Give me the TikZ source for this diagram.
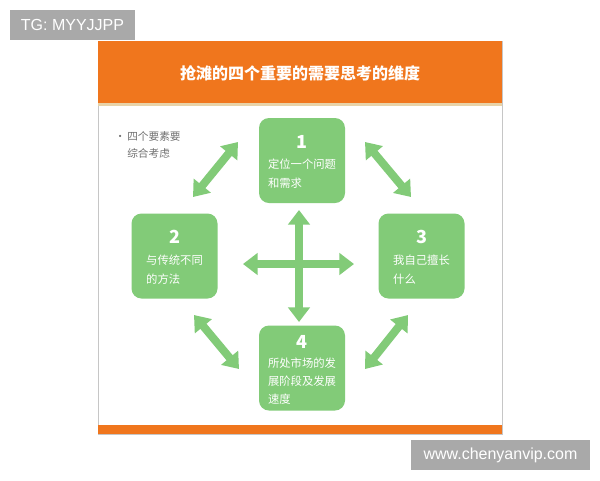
\documentclass[tikz,border=0pt]{standalone}
\usepackage{fontspec}
\setmainfont{Liberation Sans}
\newfontfamily\cjk{Noto Sans CJK SC}
\usetikzlibrary{arrows.meta,positioning}
\definecolor{hdorange}{HTML}{F0761D}
\definecolor{hdbeige}{HTML}{E8D3A8}
\definecolor{boxgreen}{HTML}{82CB78}
\definecolor{wmgray}{HTML}{A9A9A9}
\definecolor{notegray}{HTML}{707070}
\tikzset{
  stepbox/.style={draw=none, fill=boxgreen, rounded corners=7.5pt,
    minimum width=64.5pt, minimum height=63.75pt, inner sep=0pt},
  numlbl/.style={text=white, font=\cjk\bfseries\fontsize{13.5}{13.5}\selectfont, inner sep=0pt},
  boxtxt/.style={text=white, align=left, inner sep=0pt,
    font=\cjk\fontsize{8.5}{14}\selectfont},
  dblarrow/.style={draw=boxgreen, line width=6pt,
    {Triangle[width=16pt,length=11pt]}-{Triangle[width=16pt,length=11pt]}},
  wmark/.style={fill=wmgray, text=white, inner sep=0pt,
    font=\fontsize{12}{12}\selectfont}
}

\begin{document}
\begin{tikzpicture}[x=0.75pt, y=-0.75pt]
\useasboundingbox[fill=white] (0,0) rectangle (600,480);

% frame
\draw[gray!45, line width=0.6pt] (98,41) rectangle (502,434);
\fill[hdorange] (98,41) rectangle (502,103);
\fill[hdbeige] (98,103) rectangle (502,106);
\fill[hdorange] (98,425) rectangle (502,434);
\node[text=white, font=\cjk\bfseries\fontsize{12}{12}\selectfont] (title) at (300,73) {抢滩的四个重要的需要思考的维度};

% note
\node[anchor=north west, align=left, text=notegray, inner sep=0pt,
  font=\cjk\fontsize{8}{12.75}\selectfont] (note) at (127,131)
  {\llap{·\,}四个要素要\\综合考虑};

% boxes
\node[stepbox] (b1) at (302,160.5) {};
\node[stepbox] (b2) at (174.5,256) {};
\node[stepbox] (b3) at (421.5,256) {};
\node[stepbox] (b4) at (302,368) {};

\node[numlbl] (n1) at ([yshift=-18pt]b1.north) {1};
\node[numlbl] (n2) at ([yshift=-17.5pt]b2.north) {2};
\node[numlbl] (n3) at ([yshift=-17.5pt]b3.north) {3};
\node[numlbl] (n4) at ([yshift=-12.5pt]b4.north) {4};

\node[boxtxt, anchor=north] (t1) at ([yshift=-13pt]n1.center) {定位一个问题\\和需求};
\node[boxtxt, anchor=north] (t2) at ([yshift=-13.5pt]n2.center) {与传统不同\\的方法};
\node[boxtxt, anchor=north] (t3) at ([yshift=-13.5pt]n3.center) {我自己擅长\\什么};
\node[boxtxt, anchor=north, font=\cjk\fontsize{8.5}{13.5}\selectfont] (t4) at ([yshift=-11.5pt]n4.center) {所处市场的发\\展阶段及发展\\速度};

% arrows
\coordinate (hubN) at (299,210);
\coordinate (hubS) at (299,322);
\coordinate (hubW) at (243,264);
\coordinate (hubE) at (354,264);
\draw[dblarrow] (hubN) -- (hubS);
\draw[dblarrow] (hubW) -- (hubE);

\coordinate (ul1) at (193,197);
\coordinate (ul2) at (238,142);
\coordinate (ur1) at (365,142);
\coordinate (ur2) at (411,197);
\coordinate (ll1) at (194,315);
\coordinate (ll2) at (239,369);
\coordinate (lr1) at (408,315);
\coordinate (lr2) at (365,369);
\draw[dblarrow] (ul1) -- (ul2);
\draw[dblarrow] (ur1) -- (ur2);
\draw[dblarrow] (ll1) -- (ll2);
\draw[dblarrow] (lr1) -- (lr2);

% watermarks
\node[wmark, minimum width=93.75pt, minimum height=22.5pt] (tg) at (72.5,25) {TG: MYYJJPP};
\node[wmark, minimum width=134.25pt, minimum height=22.5pt] (site) at (500.5,455) {www.chenyanvip.com};
\end{tikzpicture}
\end{document}
